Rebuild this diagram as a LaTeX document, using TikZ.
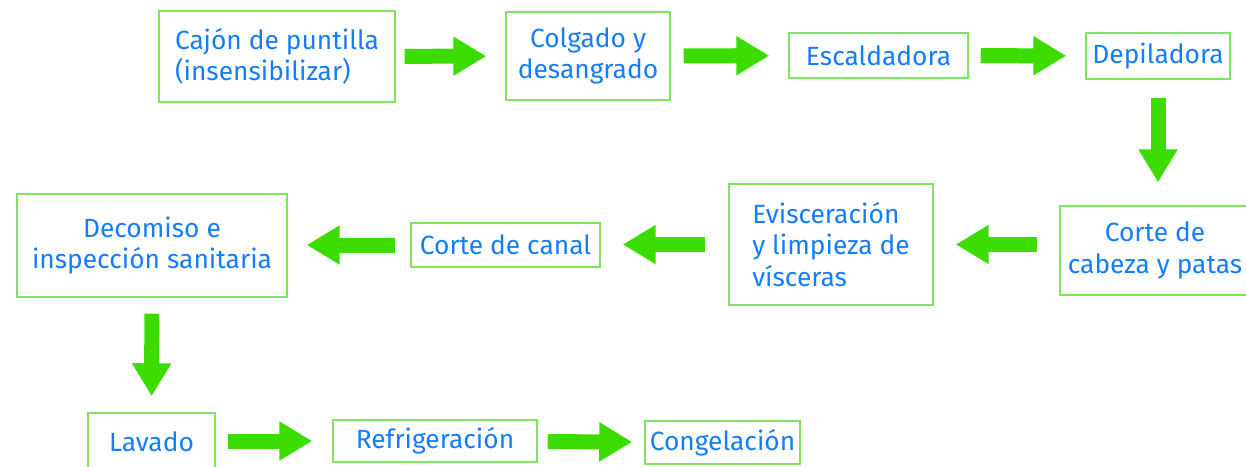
\documentclass[tikz,border=0pt]{standalone}
\usepackage{fontspec}
\setmainfont{Fira Sans}
\usetikzlibrary{arrows.meta}

\definecolor{txtblue}{RGB}{20,125,250}
\definecolor{boxgreen}{RGB}{125,228,95}
\definecolor{arrgreen}{RGB}{60,220,0}

\tikzset{
  paso/.style={draw=boxgreen, line width=0.85pt, text=txtblue, align=center,
    font=\fontsize{15}{18}\selectfont, inner sep=2pt},
  flecha/.style={arrgreen, line width=0.3cm,
    -{Triangle[length=0.66cm,width=0.74cm]},
    shorten <=0.3cm, shorten >=0.38cm}
}

\begin{document}
\begin{tikzpicture}[x=0.02cm,y=-0.02cm]
\clip (0,0) rectangle (1246,466);

% primera fila
\node[paso, align=left, minimum width=4.72cm, minimum height=1.82cm] (cajon) at (277,56.5) {Cajón de puntilla\\(insensibilizar)};
\node[paso, minimum width=3.28cm, minimum height=1.76cm] (colgado) at (588,56) {Colgado y\\desangrado};
\node[paso, minimum width=3.58cm, minimum height=0.9cm] (escald) at (878.5,55.5) {Escaldadora};
\node[paso, minimum width=2.88cm, minimum height=0.92cm] (depil) at (1158,56) {Depiladora};

% segunda fila
\node[paso, minimum width=3.8cm, minimum height=1.78cm] (cabeza) at (1155,250.5) {Corte de\\cabeza y patas};
\node[paso, align=left, minimum width=4.08cm, minimum height=2.42cm] (evis) at (831,244.5) {Evisceración\\y limpieza de\\vísceras};
\node[paso, minimum width=3.78cm, minimum height=0.88cm] (canal) at (505.5,245) {Corte de canal};
\node[paso, minimum width=5.4cm, minimum height=2.06cm] (decom) at (152,245.5) {Decomiso e\\inspección sanitaria};

% tercera fila
\node[paso, minimum width=2.54cm, minimum height=1.14cm] (lavado) at (151.5,441.5) {Lavado};
\node[paso, minimum width=4.08cm, minimum height=0.84cm] (refrig) at (435,441) {Refrigeración};
\node[paso, minimum width=3.1cm, minimum height=0.86cm] (congel) at (722.5,442.5) {Congelación};

\draw[flecha, shorten <=0.18cm] (cajon) -- (colgado);
\draw[flecha, shorten <=0.26cm] (colgado) -- (escald);
\draw[flecha, shorten <=0.24cm] (escald) -- (depil);
\draw[flecha, shorten <=0.36cm, shorten >=0.46cm] (depil.south) -- (depil.south |- cabeza.north);
\draw[flecha, shorten <=0.44cm, shorten >=0.44cm] (cabeza.west |- evis.east) -- (evis.east);
\draw[flecha, shorten <=0.46cm, shorten >=0.44cm] (evis.west) -- (evis.west -| canal.east);
\draw[flecha] (canal) -- (canal.west -| decom.east);
\draw[flecha, shorten <=0.32cm, shorten >=0.32cm] (decom) -- (lavado);
\draw[flecha, shorten <=0.24cm, shorten >=0.4cm] (lavado.east |- refrig.west) -- (refrig);
\draw[flecha, shorten <=0.2cm, shorten >=0.24cm] (refrig) -- (congel);
\end{tikzpicture}
\end{document}
